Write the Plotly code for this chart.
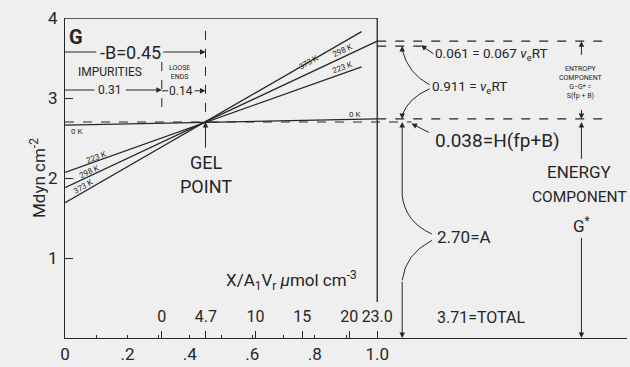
import plotly.graph_objects as go

# ---------------- data ----------------
temps = ["223 K", "298 K", "373 K", "0 K"]
line_x0 = [0.0, 0.0, 0.0, 0.0]
line_x1 = [0.95, 1.0, 0.95, 1.0]
line_g0 = [2.07, 1.88, 1.69, 2.66]
line_g1 = [3.39, 3.71, 3.83, 2.74]

A = 2.70          # energy intercept
H_term = 0.038    # H(fp+B)
nu_term = 0.911   # nu_e RT
extra_term = 0.061
gel_x = 0.45      # -B
impurities = 0.31
loose_ends = 0.14

x_ticks = [0, 0.2, 0.4, 0.6, 0.8, 1.0]
x_ticktext = ["0", ".2", ".4", ".6", ".8", "1.0"]
x_minor = [0.1, 0.2, 0.3, 0.4, 0.5, 0.6, 0.7, 0.8, 0.9]
sec_vals = [0, 4.7, 10, 15, 20, 23.0]
sec_text = ["0", "4.7", "10", "15", "20", "23.0"]
y_ticks = [0, 1, 2, 3, 4]

# ---------------- derived levels ----------------
lvl_A = A
lvl_H = A + H_term
lvl_nu = lvl_H + nu_term
lvl_tot = lvl_nu + extra_term
sec_pos = [impurities + v * (1.0 - impurities) / sec_vals[-1] for v in sec_vals]

F = "Roboto, Liberation Sans, sans-serif"
INK = "#262626"
BG = "#efefef"

fig = go.Figure()
for i, t in enumerate(temps):
    fig.add_trace(go.Scatter(x=[line_x0[i], line_x1[i]], y=[line_g0[i], line_g1[i]],
                             mode="lines", line=dict(color=INK, width=1.3),
                             showlegend=False, hoverinfo="skip", name=t))
fig.add_trace(go.Scatter(x=[0.5], y=[0], xaxis="x2", mode="markers",
                         marker=dict(opacity=0), showlegend=False, hoverinfo="skip"))

shapes = []
def seg(x0, y0, x1, y1, dash="solid", w=1.2):
    shapes.append(dict(type="line", xref="x", yref="y", x0=x0, y0=y0, x1=x1, y1=y1,
                       line=dict(color=INK, width=w, dash=dash)))
def path(p, w=1.0):
    shapes.append(dict(type="path", xref="x", yref="y", path=p,
                       line=dict(color=INK, width=w)))

# frame
seg(0, 4, 1.0, 4, w=1.3)
seg(1.0, 4, 1.0, 0.45, w=1.3)
# dashed levels
seg(0, lvl_A, 1.11, lvl_A, dash="dash")
seg(1.0, lvl_H, 1.73, lvl_H, dash="dash")
seg(1.0, lvl_nu, 1.14, lvl_nu, dash="dash")
seg(1.0, lvl_tot, 1.73, lvl_tot, dash="dash")
# vertical dashed
seg(impurities, 3.45, impurities, 2.85, dash="dash", w=1.0)
seg(gel_x, 3.84, gel_x, lvl_A, dash="dash", w=1.0)
# B lines
seg(0, 3.575, 0.10, 3.575, w=1.0)
seg(0, 3.10, 0.094, 3.10, w=1.0)
seg(impurities, 3.09, impurities + 0.02, 3.09, w=1.0)
# dimension at x=1.08
xd = 1.08
path(f"M {xd},{lvl_nu-0.05} Q {xd+0.02},{3.30} {1.168},{3.165}")
path(f"M {1.168},{3.115} Q {xd+0.02},{3.0} {xd},{lvl_H+0.05}")
seg(xd, lvl_A - 0.05, xd, 1.78, w=1.0)
path(f"M {xd},{1.78} Q {xd+0.01},{1.45} {1.175},{1.30}")
path(f"M {1.175},{1.22} Q {xd+0.01},{1.05} {xd},{0.72}")

ann = []
def arrow(x0, y0, x1, y1):
    ann.append(dict(x=x1, y=y1, ax=x0, ay=y0, xref="x", yref="y", axref="x", ayref="y",
                    text="", showarrow=True, arrowhead=2, arrowsize=1.1, arrowwidth=1.0,
                    arrowcolor=INK))
def txt(x, y, s, size, xa="center", angle=0, bold=False, xref="x"):
    ann.append(dict(x=x, y=y, xref=xref, yref="y", text=("<b>%s</b>" % s) if bold else s,
                    showarrow=False, xanchor=xa, yanchor="middle", textangle=angle,
                    font=dict(family=F, size=size, color=INK)))

arrow(0.31, 3.575, gel_x, 3.575)
arrow(0.19, 3.10, impurities, 3.10)
arrow(0.41, 3.09, gel_x, 3.09)
arrow(gel_x, 2.36, gel_x, lvl_A)
arrow(xd, lvl_nu - 0.06, xd, lvl_nu)
arrow(xd, lvl_H + 0.06, xd, lvl_H)
arrow(xd, lvl_A - 0.06, xd, lvl_A)
arrow(xd, 0.72, xd, 0)
arrow(1.185, 3.54, 1.14, lvl_nu + 0.01)
arrow(1.17, 2.56, 1.11, 2.68)
xr = 1.654
arrow(xr, 3.52, xr, lvl_tot)
arrow(xr, 2.87, xr, lvl_H)
arrow(xr, 2.22, xr, lvl_A)
arrow(xr, 1.27, xr, 0)

txt(0.006, 3.76, "G", 20, xa="left", bold=True)
txt(0.21, 3.575, "-B=0.45", 18)
txt(0.144, 3.325, "IMPURITIES", 12)
txt(0.144, 3.10, "0.31", 12)
txt(0.368, 3.325, "LOOSE<br>ENDS", 7)
txt(0.372, 3.09, "0.14", 12)
txt(gel_x, 2.19, "GEL", 18)
txt(gel_x, 1.90, "POINT", 18)
txt(1.179, 3.55, "0.061 = 0.067 <i>ν</i><sub>e</sub>RT", 13.5, xa="left")
txt(1.17, 3.14, "0.911 = <i>ν</i><sub>e</sub>RT", 13.5, xa="left")
txt(1.179, 2.475, "0.038=H(fp+B)", 19, xa="left")
txt(1.185, 1.26, "2.70=A", 17, xa="left")
txt(1.185, 0.26, "3.71=TOTAL", 16, xa="left")
txt(xr, 3.19, "ENTROPY<br>COMPONENT<br>G−G* =<br>S(fp + B)", 7)
txt(1.648, 2.08, "ENERGY", 17)
txt(1.648, 1.76, "COMPONENT", 15.5)
txt(xr, 1.41, "G<sup>*</sup>", 17)
txt(0.727, 0.72, "X/A<sub>1</sub>V<sub>r</sub> <i>μ</i>mol cm<sup>-3</sup>", 17)
txt(1.093, -0.21, "fp", 17)
txt(1.20, -0.21, "phr", 17)
txt(-0.048, 2.0, "Mdyn cm<sup>-2</sup>", 17, angle=-90, xref="paper")
# temperature labels
txt(0.78, 3.45, "373 K", 8, angle=-30)
txt(0.89, 3.60, "298 K", 8, angle=-25)
txt(0.89, 3.38, "223 K", 8, angle=-20)
txt(0.93, 2.80, "0 K", 8)
txt(0.04, 2.58, "0 K", 8)
txt(0.10, 2.26, "223 K", 8, angle=-20)
txt(0.08, 2.08, "298 K", 8, angle=-25)
txt(0.06, 1.89, "373 K", 8, angle=-30)

fig.update_layout(
    width=630, height=367, autosize=False,
    margin=dict(l=65, r=3, t=18, b=29),
    paper_bgcolor=BG, plot_bgcolor=BG,
    showlegend=False,
    shapes=shapes, annotations=ann,
    font=dict(family=F, color=INK),
    xaxis=dict(range=[0, 1.8], showgrid=False, zeroline=False, showline=True,
               linecolor=INK, linewidth=1.3, ticks="", tickangle=0,
               tickvals=x_ticks, ticktext=x_ticktext, tickfont=dict(size=17, family=F, color=INK),
               minor=dict(tickvals=x_minor, ticks="inside", ticklen=3, tickcolor=INK)),
    xaxis2=dict(range=[0, 1.8], overlaying="x", anchor="y", side="bottom", showgrid=False,
                zeroline=False, showline=False, ticks="inside", ticklen=7, tickcolor=INK,
                tickangle=0, tickvals=sec_pos, ticktext=sec_text, ticklabelposition="inside",
                ticklabelstandoff=6, tickfont=dict(size=16, family=F, color=INK)),
    yaxis=dict(range=[0, 4], showgrid=False, zeroline=False, showline=True,
               linecolor=INK, linewidth=1.3, ticks="inside", ticklen=8, tickcolor=INK,
               tickvals=y_ticks, ticklabelstandoff=3, tickfont=dict(size=17, family=F, color=INK)),
)
fig.write_html("out.html", config={"displayModeBar": False},
               post_script="document.body.style.margin='0';document.body.style.background='%s';" % BG)
